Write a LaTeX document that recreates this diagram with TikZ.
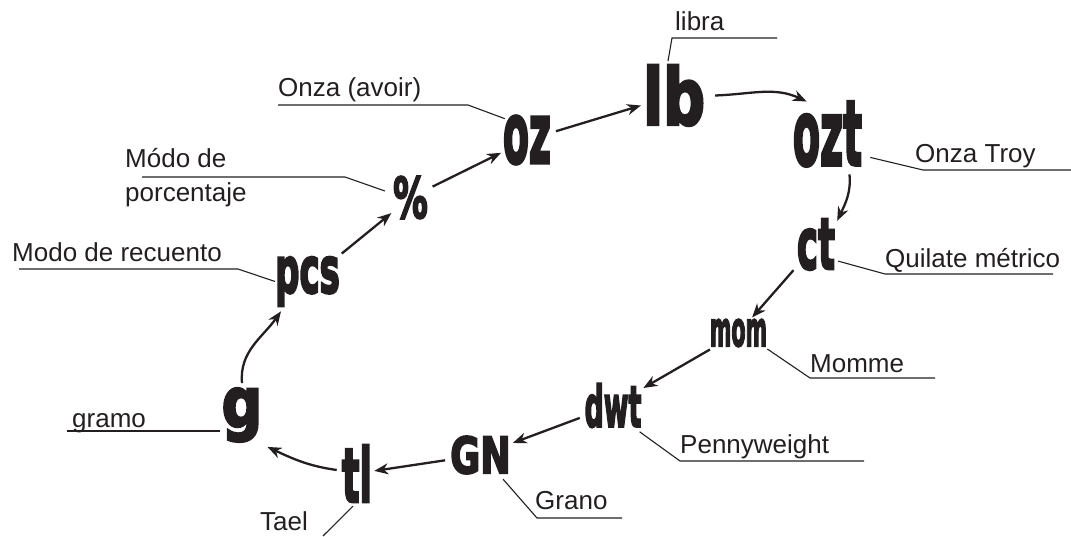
\documentclass[tikz,border=0pt]{standalone}
\usepackage{graphicx}
\usepackage{fontspec}
\setmainfont{Liberation Sans}
\newfontfamily\symfont[BoldFeatures={FakeBold=4}]{DejaVu Sans}
\usetikzlibrary{arrows.meta}
\definecolor{ink}{HTML}{231F20}
% unit symbol: horizontal squeeze, size, text
\newcommand{\sym}[3]{\scalebox{#1}[1]{\fontsize{#2}{#2}\selectfont\symfont\bfseries #3}}

\begin{document}
\begin{tikzpicture}[x=1pt,y=1pt,
  unit/.style={inner sep=0pt,text=ink},
  lbl/.style={inner sep=0pt,anchor=base west,text=ink,font=\fontsize{26}{26}\selectfont},
  leader/.style={draw=ink,line width=1.1pt},
  conv/.style={draw=ink,line width=2.3pt,-{Stealth[length=14pt,width=11pt,inset=4.5pt]}},
  hop/.style={conv,shorten <=5pt,shorten >=2pt}]
\useasboundingbox (0,0) rectangle (1071,536);

% the units
\node[unit] (lb) at (674,440.5) {\sym{0.75}{78}{lb}};
\node[unit] (oz) at (527,396) {\sym{0.45}{84}{oz}};
\node[unit] (ozt) at (827.5,402) {\sym{0.44}{90}{ozt}};
\node[unit] (ct) at (816,291.5) {\sym{0.5}{71}{ct}};
\node[unit] (mom) at (738.5,203) {\sym{0.43}{48}{mom}};
\node[unit] (dwt) at (613,130.5) {\sym{0.47}{57}{dwt}};
\node[unit] (GN) at (480.5,81) {\sym{0.73}{50}{GN}};
\node[unit] (tl) at (357,62.5) {\sym{0.49}{75}{tl}};
\node[unit] (g) at (242,121) {\sym{0.82}{69}{g}};
\node[unit] (pcs) at (307.5,254.5) {\sym{0.53}{64}{pcs}};
\node[unit] (pct) at (410.5,338.5) {\sym{0.62}{56}{\%}};

% the names
\node[lbl] (libra) at (675,505) {libra};
\node[lbl] (avoir) at (278,439) {Onza (avoir)};
\node[lbl] (troy) at (915,373) {Onza Troy};
\node[lbl] (quilate) at (885,268) {Quilate métrico};
\node[lbl] (momme) at (810,164) {Momme};
\node[lbl] (penny) at (680,83) {Pennyweight};
\node[lbl] (grano) at (535,27) {Grano};
\node[lbl] (tael) at (260,6) {Tael};
\node[lbl] (gramo) at (72,109) {gramo};
\node[lbl] (recuento) at (12,274) {Modo de recuento};
\node[lbl] (porcA) at (125,368) {Módo de};
\node[lbl] (porcB) at (125,334) {porcentaje};

% leader bends and ends
\coordinate (libra-k) at (672,498); \coordinate (libra-e) at (777,498);
\coordinate (avoir-k) at (468,431); \coordinate (avoir-e) at (278,431);
\coordinate (troy-k) at (923,366);  \coordinate (troy-e) at (1071,366);
\coordinate (quil-k) at (885,262);  \coordinate (quil-e) at (1053,262);
\coordinate (mom-k) at (810,158);   \coordinate (mom-e) at (935,158);
\coordinate (penny-k) at (680,75);  \coordinate (penny-e) at (864,75);
\coordinate (grano-k) at (537,18);  \coordinate (grano-e) at (622,18);
\coordinate (tael-e) at (323,0);
\coordinate (gramo-e) at (67,105);
\coordinate (rec-k) at (238,267);   \coordinate (rec-e) at (19,267);
\coordinate (porc-k) at (345,359);  \coordinate (porc-e) at (142,359);

\draw[leader] ([xshift=-6pt,yshift=4pt]lb.north) -- (libra-k) -- (libra-e);
\draw[leader] ([xshift=2pt,yshift=-3pt]oz.north west) -- (avoir-k) -- (avoir-e);
\draw[leader] ([xshift=8pt,yshift=9pt]ozt.south east) -- (troy-k) -- (troy-e);
\draw[leader] ([xshift=3pt,yshift=9pt]ct.south east) -- (quil-k) -- (quil-e);
\draw[leader] ([yshift=-2pt]mom.south east) -- (mom-k) -- (mom-e);
\draw[leader] ([xshift=-2pt,yshift=-4pt]dwt.south east) -- (penny-k) -- (penny-e);
\draw[leader] ([xshift=-8pt,yshift=-5pt]GN.south east) -- (grano-k) -- (grano-e);
\draw[leader] ([xshift=-4pt,yshift=-4pt]tl.south) -- (tael-e);
\draw[leader] ([xshift=-2pt,yshift=-16pt]g.west) -- (gramo-e);
\draw[leader] (pcs.west) -- (rec-k) -- (rec-e);
\draw[leader] ([xshift=-8pt,yshift=6.5pt]pct.west) -- (porc-k) -- (porc-e);

% the cycle
\draw[conv] ([yshift=5pt]g.north) to[out=95,in=235] ([xshift=6pt,yshift=-5pt]pcs.south west);
\draw[hop] (pcs) -- (pct);
\draw[hop] (pct) -- (oz);
\draw[hop] (oz) -- (lb);
\draw[conv] ([xshift=10pt]lb.east) to[out=2,in=155] ([xshift=14pt]ozt.north west);
\draw[conv] ([xshift=22pt,yshift=-8pt]ozt.south) to[out=-85,in=65] ([xshift=2pt,yshift=-2pt]ct.north east);
\draw[hop] (ct) -- (mom);
\draw[hop] (mom) -- (dwt);
\draw[hop] (dwt) -- (GN);
\draw[hop] (GN) -- (tl);
\draw[conv] ([xshift=-5pt,yshift=3.5pt]tl.west) to[out=172,in=-25] ([xshift=5pt,yshift=-5pt]g.south east);
\end{tikzpicture}
\end{document}
